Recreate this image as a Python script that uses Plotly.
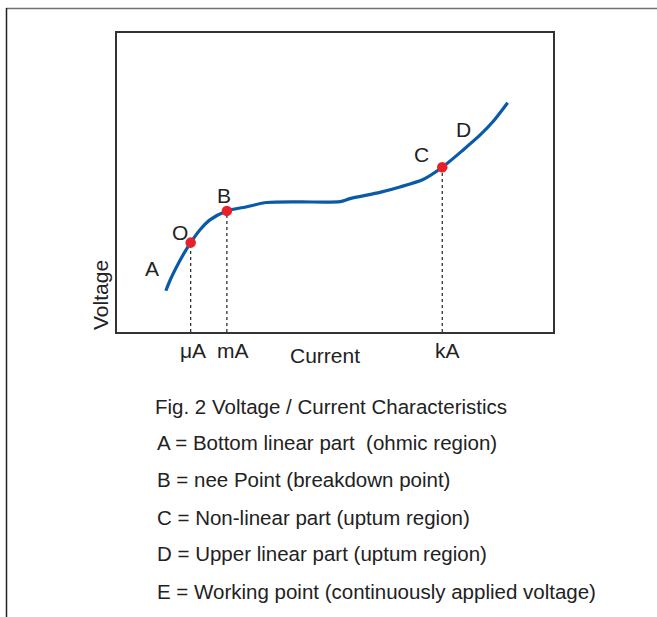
import plotly.graph_objects as go

W, H = 657, 617

# Curve (arbitrary units: x 0-100 current, y 0-100 voltage)
curve_x = [11.2, 12.2, 14.1, 15.6, 16.9, 19.0, 21.3, 25.2, 29.8, 34.3, 42.0, 51.2, 53.4, 60.3, 64.9, 70.2, 74.6, 79.4, 83.3, 86.2, 89.6]
curve_y = [13.8, 17.4, 23.0, 26.9, 29.9, 34.1, 37.5, 40.5, 41.9, 43.3, 43.5, 43.6, 44.6, 46.7, 48.5, 51.0, 55.1, 60.9, 65.9, 70.3, 76.7]

point_names = ["O", "B", "C"]
point_x = [16.9, 25.2, 74.6]
point_y = [29.9, 40.5, 55.1]

region_labels = ["A", "O", "B", "C", "D"]
region_x = [8.0, 14.4, 24.5, 69.9, 79.4]
region_y = [21.4, 33.4, 45.8, 59.2, 67.6]

tick_labels = ["\u03bcA", "mA", "kA"]
tick_x = [17.4, 26.6, 75.7]

x_title = "Current"
y_title = "Voltage"

caption_lines = [
    "Fig. 2 Voltage / Current Characteristics",
    "A = Bottom linear part  (ohmic region)",
    "B = nee Point (breakdown point)",
    "C = Non-linear part (uptum region)",
    "D = Upper linear part (uptum region)",
    "E = Working point (continuously applied voltage)",
]

# Layout geometry (pixels)
PL, PR, PT, PB = 117, 553, 33, 332

def px(x):
    return x / W

def py(y):
    return 1 - y / H

fig = go.Figure()

for x, y in zip(point_x, point_y):
    fig.add_trace(go.Scatter(x=[x, x], y=[0, y], mode="lines",
                             line=dict(color="#222222", width=1.2, dash="dot"),
                             hoverinfo="skip", showlegend=False))

fig.add_trace(go.Scatter(x=curve_x, y=curve_y, mode="lines",
                         line=dict(color="#0a5aa8", width=3.2, shape="spline", smoothing=0.7),
                         showlegend=False))

fig.add_trace(go.Scatter(x=point_x, y=point_y, mode="markers", text=point_names,
                         marker=dict(color="#e8202a", size=10.5),
                         showlegend=False))

chart_font = dict(family="Liberation Sans, Arial, sans-serif", size=21, color="#222222")
caption_font = dict(family="Liberation Sans, Arial, sans-serif", size=20.5, color="#222222")

annotations = []
for t, x, y in zip(region_labels, region_x, region_y):
    annotations.append(dict(x=x, y=y, xref="x", yref="y", text=t, showarrow=False,
                            font=chart_font, xanchor="center", yanchor="middle"))
for t, x in zip(tick_labels, tick_x):
    annotations.append(dict(x=x, y=py(350), xref="x", yref="paper", text=t, showarrow=False,
                            font=chart_font, xanchor="center", yanchor="middle"))
annotations.append(dict(x=px(325), y=py(355), xref="paper", yref="paper", text=x_title,
                        showarrow=False, font=chart_font, xanchor="center", yanchor="middle"))
annotations.append(dict(x=px(100), y=py(295), xref="paper", yref="paper", text=y_title,
                        showarrow=False, font=chart_font, textangle=-90,
                        xanchor="center", yanchor="middle"))

cap_y = [406, 442, 479, 517, 553, 591]
cap_x = [153, 155, 155, 155, 155, 155]
for t, x, y in zip(caption_lines, cap_x, cap_y):
    annotations.append(dict(x=px(x), y=py(y), xref="paper", yref="paper", text=t,
                            showarrow=False, font=caption_font, xanchor="left", yanchor="middle"))

shapes = [
    dict(type="line", xref="paper", yref="paper", x0=px(6), x1=1.0, y0=py(8.5), y1=py(8.5),
         line=dict(color="#707070", width=1.5)),
    dict(type="line", xref="paper", yref="paper", x0=px(6.5), x1=px(6.5), y0=py(8), y1=0,
         line=dict(color="#222222", width=1.5)),
]

fig.update_layout(
    width=W, height=H,
    margin=dict(l=0, r=0, t=0, b=0),
    paper_bgcolor="white", plot_bgcolor="white",
    showlegend=False,
    xaxis=dict(domain=[px(PL), px(PR)], range=[0, 100], showgrid=False, zeroline=False,
               showticklabels=False, ticks="", showline=True, mirror=True,
               linecolor="#333333", linewidth=1.5, fixedrange=True),
    yaxis=dict(domain=[py(PB), py(PT)], range=[0, 100], showgrid=False, zeroline=False,
               showticklabels=False, ticks="", showline=True, mirror=True,
               linecolor="#333333", linewidth=1.5, fixedrange=True),
    annotations=annotations,
    shapes=shapes,
)

fig.write_html("out.html", config={"displayModeBar": False},
               post_script="document.body.style.margin='0px';document.body.style.overflow='hidden';")
